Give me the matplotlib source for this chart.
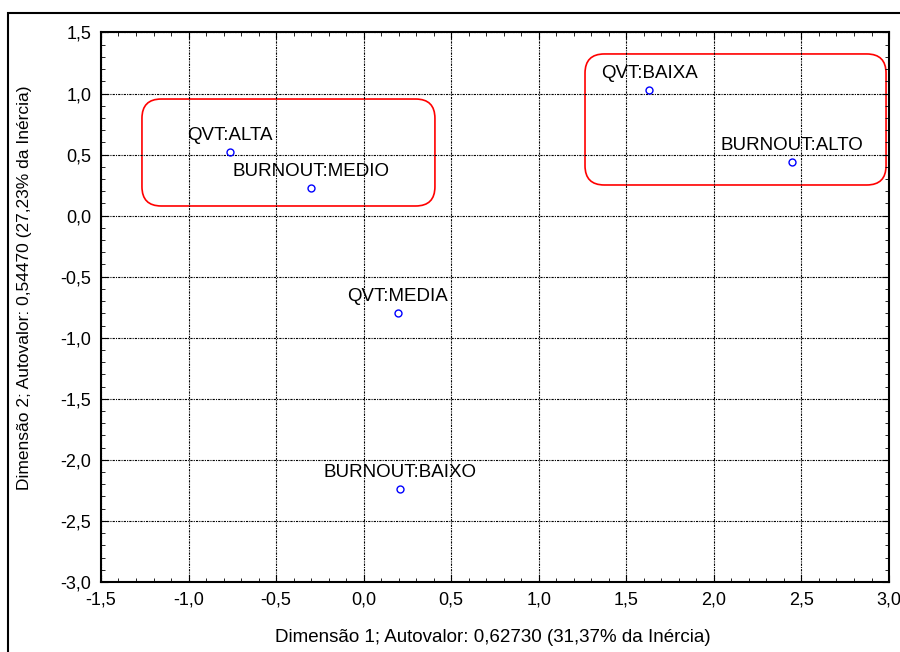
import numpy as np
import matplotlib.pyplot as plt
from matplotlib.patches import FancyBboxPatch, Rectangle
from matplotlib.ticker import MultipleLocator, FuncFormatter

plt.rcParams['font.family'] = ['Liberation Sans', 'DejaVu Sans']

# Data (coordinates)
labels = ["QVT:ALTA", "BURNOUT:MEDIO", "QVT:BAIXA", "BURNOUT:ALTO", "QVT:MEDIA", "BURNOUT:BAIXO"]
dim1 = [-0.763, -0.301, 1.630, 2.446, 0.196, 0.208]
dim2 = [0.521, 0.226, 1.029, 0.439, -0.797, -2.239]

# highlighted groups: (x0, y0, x1, y1)
groups = [(-1.266, 0.079, 0.407, 0.955),
          (1.264, 0.251, 2.983, 1.324)]

fig = plt.figure(figsize=(9, 6.52), dpi=100)
ax = fig.add_axes([0.1122, 0.1074, 0.8756, 0.8428])

ax.plot(dim1, dim2, 'o', mfc='none', mec='blue', ms=5, mew=1)
for lab, x, y in zip(labels, dim1, dim2):
    ax.annotate(lab, (x, y), xytext=(0, 5.5), textcoords='offset points',
                ha='center', va='bottom', fontsize=13.5)

# rounded boxes; mutation_aspect fixes the round corners for the axis scales
for x0, y0, x1, y1 in groups:
    box = FancyBboxPatch((x0, y0), x1 - x0, y1 - y0,
                         boxstyle="round,pad=0,rounding_size=0.11",
                         mutation_aspect=1.434, fill=False, ec='red', lw=1.2)
    ax.add_patch(box)

ax.set_xlim(-1.5, 3.0)
ax.set_ylim(-3.0, 1.5)
ax.xaxis.set_major_locator(MultipleLocator(0.5))
ax.yaxis.set_major_locator(MultipleLocator(0.5))
ax.xaxis.set_minor_locator(MultipleLocator(0.1))
ax.yaxis.set_minor_locator(MultipleLocator(0.1))
fmt = FuncFormatter(lambda v, p: ("%.1f" % v).replace('.', ','))
ax.xaxis.set_major_formatter(fmt)
ax.yaxis.set_major_formatter(fmt)
ax.tick_params(which='both', direction='in', top=True, right=True, labelsize=13)
ax.tick_params(which='major', length=5, pad=7)
ax.tick_params(which='minor', length=3)
ax.grid(True, which='major', color='black', ls=(0, (2, 1, 1, 1)), lw=0.8)
for s in ax.spines.values():
    s.set_linewidth(1.5)

ax.set_xlabel("Dimensão 1; Autovalor: 0,62730 (31,37% da Inércia)", fontsize=13.5)
ax.set_ylabel("Dimensão 2; Autovalor: 0,54470 (27,23% da Inércia)", fontsize=12.5)
ax.xaxis.set_label_coords(0.4975, -0.086)
ax.yaxis.set_label_coords(-0.087, 0.535)

# outer frame
fig.patches.append(Rectangle((8 / 900, -0.01), 1.0, 1 - 13 / 652 + 0.01,
                             transform=fig.transFigure, fill=False, ec='black', lw=1.5))

fig.savefig("out.png", dpi=100)
